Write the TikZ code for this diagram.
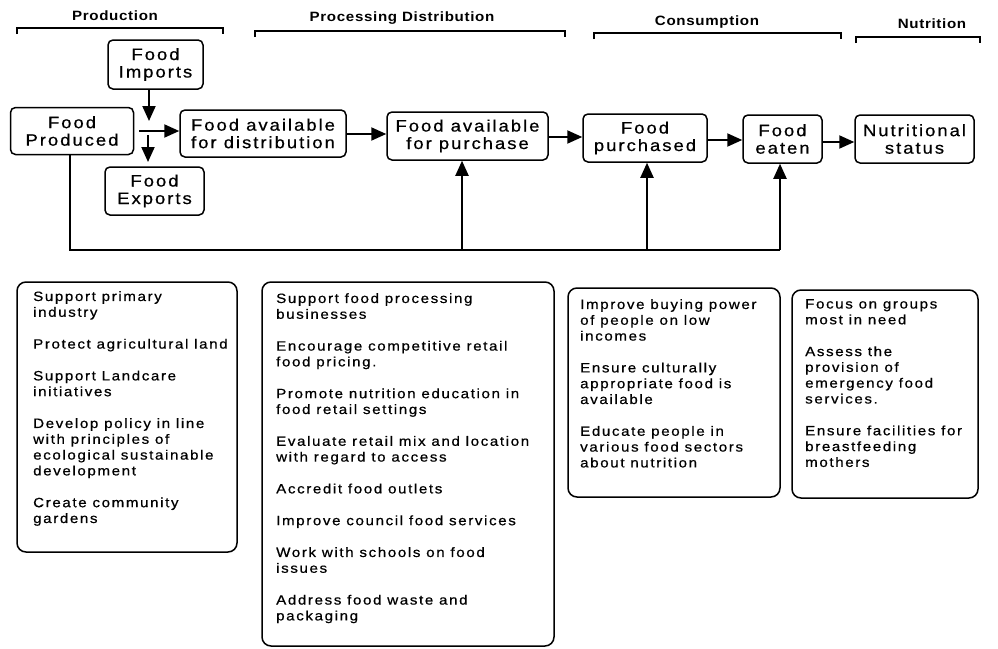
\documentclass[tikz,border=0pt]{standalone}
\usepackage{fontspec}
\setmainfont{Liberation Sans}[FakeStretch=1.12, LetterSpace=12, FakeBold=0.6]
\newfontfamily\headfont{Liberation Sans}[FakeStretch=1.12, LetterSpace=5]
\usetikzlibrary{arrows.meta}
\begin{document}
\begin{tikzpicture}[x=1pt,y=-1pt,
  flow/.style={draw, line width=1.5pt, rounded corners=5pt, align=center, inner sep=0pt,
    font=\fontsize{16.5}{17.5}\selectfont},
  panel/.style={draw, line width=1.5pt, rounded corners=9pt, inner sep=0pt},
  paneltext/.style={anchor=north west, align=left, inner sep=0pt,
    font=\fontsize{13.5}{15.8}\selectfont},
  head/.style={font=\headfont\bfseries\fontsize{13.5}{15}\selectfont, inner sep=0pt},
  arr/.style={line width=2pt, -{Triangle[length=15pt,width=13pt]}},
  ln/.style={line width=2pt},
  brk/.style={line width=1.5pt}]
\useasboundingbox (0,0) rectangle (998,648);
\fill[white] (0,0) rectangle (998,648);

% headers
\node[head] (hprod) at (115,16) {Production};
\draw[brk] (17,34) -- (17,28) -- (223,28) -- (223,34);
\node[head] (hproc) at (402,18) {Processing Distribution};
\draw[brk] (255,37) -- (255,31) -- (565,31) -- (565,37);
\node[head] (hcons) at (707,22) {Consumption};
\draw[brk] (594,39) -- (594,33) -- (841,33) -- (841,39);
\node[head] (hnut) at (932,24) {Nutrition};
\draw[brk] (856,43) -- (856,37) -- (980,37) -- (980,43);

% flow boxes
\node[flow, minimum width=95pt, minimum height=49pt] (imp) at (155.5,64.5) {Food\\Imports};
\node[flow, minimum width=123pt, minimum height=47pt] (prod) at (72,131) {Food\\Produced};
\node[flow, minimum width=99pt, minimum height=48pt] (exp) at (154.5,191) {Food\\Exports};
\node[flow, minimum width=166pt, minimum height=47pt] (dist) at (263,133.5) {Food available\\for distribution};
\node[flow, minimum width=161pt, minimum height=48pt] (purch) at (467.5,136) {Food available\\for purchase};
\node[flow, minimum width=124pt, minimum height=48pt] (bought) at (645,138) {Food\\purchased};
\node[flow, minimum width=79pt, minimum height=48pt] (eaten) at (782.5,139) {Food\\eaten};
\node[flow, minimum width=119pt, minimum height=48pt] (status) at (914.5,139) {Nutritional\\status};

% hub arrows
\coordinate (impend) at (149,121);
\coordinate (hub) at (139,131);
\coordinate (expstart) at (148,135);
\coordinate (expend) at (148,162);
\draw[arr] (imp.south -| impend) -- (impend);
\draw[arr] (hub) -- (hub -| dist.west);
\draw[arr] (expstart) -- (expend);

% main chain
\draw[arr] (dist.east |- 0,134) -- (purch.west |- 0,134);
\draw[arr] (purch.east |- 0,137) -- (bought.west |- 0,137);
\draw[arr] (bought.east |- 0,140) -- (eaten.west |- 0,140);
\draw[arr] (eaten.east |- 0,142) -- (status.west |- 0,142);

% feedback
\coordinate (fb0) at (70,250);
\coordinate (fb1) at (462,250);
\coordinate (fb2) at (647,250);
\coordinate (fb3) at (780,250);
\draw[ln] (prod.south -| fb0) -- (fb0) -- (fb3);
\draw[arr] (fb3) -- (fb3 |- eaten.south);
\draw[arr] (fb1) -- (fb1 |- purch.south);
\draw[arr] (fb2) -- (fb2 |- bought.south);

% panels
\node[panel, minimum width=220pt, minimum height=270pt] (p1) at (127,417) {};
\node[paneltext] (t1) at (33,291) {Support primary\\industry\\[16pt]
Protect agricultural land\\[16pt]
Support Landcare\\initiatives\\[16pt]
Develop policy in line\\with principles of\\ecological sustainable\\development\\[16pt]
Create community\\gardens};

\node[panel, minimum width=292pt, minimum height=364pt] (p2) at (408,464) {};
\node[paneltext] (t2) at (276,293) {Support food processing\\businesses\\[16pt]
Encourage competitive retail\\food pricing.\\[16pt]
Promote nutrition education in\\food retail settings\\[16pt]
Evaluate retail mix and location\\with regard to access\\[16pt]
Accredit food outlets\\[16pt]
Improve council food services\\[16pt]
Work with schools on food\\issues\\[16pt]
Address food waste and\\packaging};

\node[panel, minimum width=212pt, minimum height=209pt] (p3) at (674,392.5) {};
\node[paneltext] (t3) at (580,299) {Improve buying power\\of people on low\\incomes\\[16pt]
Ensure culturally\\appropriate food is\\available\\[16pt]
Educate people in\\various food sectors\\about nutrition};

\node[panel, minimum width=186pt, minimum height=208pt] (p4) at (885,394) {};
\node[paneltext] (t4) at (805,299) {Focus on groups\\most in need\\[16pt]
Assess the\\provision of\\emergency food\\services.\\[16pt]
Ensure facilities for\\breastfeeding\\mothers};
\end{tikzpicture}
\end{document}
